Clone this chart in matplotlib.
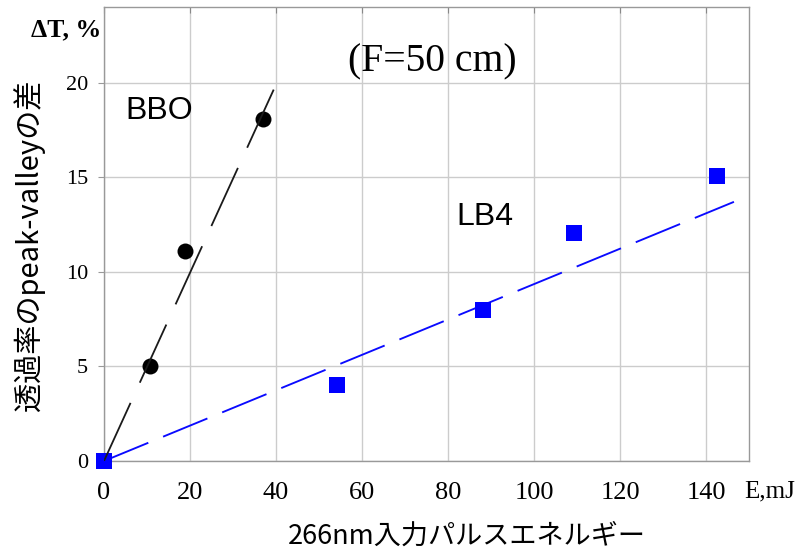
import matplotlib
matplotlib.use("Agg")
import matplotlib.pyplot as plt

# ---- data ----
bbo_x = [10.8, 18.8, 37.0]
bbo_y = [5.0, 11.1, 18.1]
bbo_fit_x = [0, 39.8]
bbo_fit_y = [0, 19.8]

lb4_x = [0, 54.2, 88.1, 109.3, 142.6]
lb4_y = [0, 4.0, 8.0, 12.05, 15.05]
lb4_fit_x = [0, 146.5]
lb4_fit_y = [0, 13.7]

x_ticks = [0, 20, 40, 60, 80, 100, 120, 140]
y_ticks = [0, 5, 10, 15, 20]

plt.rcParams['lines.scale_dashes'] = False
serif = ['Liberation Serif', 'DejaVu Serif']
cjk = ['Noto Sans CJK JP', 'DejaVu Sans']

fig = plt.figure(figsize=(8.02, 5.59), dpi=100)
ax = fig.add_axes([104/802, 98/559, 645/802, 454/559])

ax.set_xlim(0, 150)
ax.set_ylim(0, 24)
ax.set_xticks(x_ticks)
ax.set_yticks(y_ticks)
ax.grid(True, color='#cccccc', lw=1.0, zorder=0)
ax.set_axisbelow(True)
for s in ax.spines.values():
    s.set_color('#999999')
    s.set_linewidth(1.0)

ax.tick_params(axis='x', bottom=False, top=True, direction='in', length=4,
               color='#888888', pad=15, labelsize=19)
ax.tick_params(axis='y', direction='out', length=4.3, color='#999999',
               pad=7, labelsize=16)
for lab in ax.get_xticklabels() + ax.get_yticklabels():
    lab.set_family(serif)

# LB4
ax.plot(lb4_fit_x, lb4_fit_y, color='#0a0aff', lw=1.35, dashes=(34.5, 11.5), zorder=3)
ax.plot(lb4_x, lb4_y, 's', color='#0000ff', ms=11.5, mew=0, zorder=4, clip_on=False)
# BBO
ax.plot(bbo_x, bbo_y, 'o', color='black', ms=11.5, mew=0, zorder=5)
ax.plot(bbo_fit_x, bbo_fit_y, color='#1a1a1a', lw=1.3, dashes=(46, 16), zorder=6)

ax.text(12.8, 18.5, 'BBO', family=['Liberation Sans'], fontsize=23,
        ha='center', va='center')
ax.text(88.7, 12.9, 'LB4', family=['Liberation Sans'], fontsize=23,
        ha='center', va='center')
ax.text(76.4, 21.1, '(F=50 cm)', family=serif, fontsize=28.5,
        ha='center', va='center')

fig.text(66/802, 1 - 30/559, 'ΔT, %', family=serif, fontsize=18.5,
         fontweight='bold', ha='center', va='center')
fig.text(770/802, 1 - 491/559, 'E,mJ', family=serif, fontsize=18,
         ha='center', va='center')
fig.text(29/802, 1 - 245/559, '透過率のpeak-valleyの差', family=cjk,
         fontsize=21, rotation=90, ha='center', va='center')
fig.text(467/802, 1 - 536/559, '266nm入力パルスエネルギー', family=cjk,
         fontsize=19.5, ha='center', va='center')

fig.savefig('out.png', dpi=100)
